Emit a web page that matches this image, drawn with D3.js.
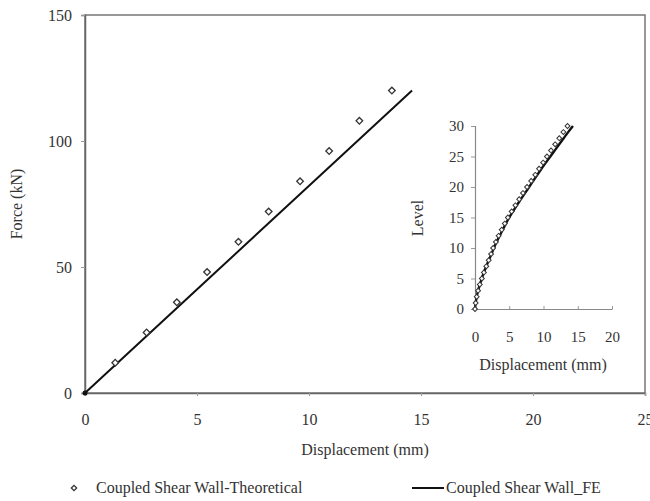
<!DOCTYPE html>
<html><head><meta charset="utf-8">
<script src="https://cdn.jsdelivr.net/npm/d3@7"></script>
<style>body{margin:0;background:#fff}svg{display:block}text{font-family:"Liberation Serif","Times New Roman",serif;fill:#333}</style>
</head><body><div id="chart"></div>
<script>
// Main chart data
const theoForce = [12, 24, 36, 48, 60, 72, 84, 96, 108, 120];
const theoDisp  = [1.35, 2.75, 4.1, 5.45, 6.85, 8.2, 9.6, 10.9, 12.25, 13.7];
const feForce   = [0, 12, 24, 36, 48, 60, 72, 84, 96, 108, 120];
const feDisp    = [0, 1.46, 2.92, 4.38, 5.84, 7.3, 8.76, 10.22, 11.68, 13.14, 14.6];
const xTicks = [0, 5, 10, 15, 20, 25];
const yTicks = [0, 50, 100, 150];
// Inset data
const levels = [0,1,2,3,4,5,6,7,8,9,10,11,12,13,14,15,16,17,18,19,20,21,22,23,24,25,26,27,28,29,30];
const insetTheo = [0,0.1,0.25,0.45,0.7,1.0,1.3,1.65,2.0,2.35,2.65,3.05,3.45,3.9,4.35,4.8,5.35,5.9,6.45,7.0,7.6,8.2,8.8,9.35,9.95,10.5,11.1,11.7,12.3,12.9,13.5];
const insetFE   = [0,0.1,0.25,0.45,0.7,1.0,1.3,1.65,2.0,2.4,2.75,3.15,3.6,4.05,4.5,5.0,5.55,6.1,6.7,7.3,7.9,8.5,9.1,9.7,10.35,11.0,11.65,12.3,12.95,13.6,14.3];
const insetXTicks = [0, 5, 10, 15, 20];
const insetYTicks = [0, 5, 10, 15, 20, 25, 30];
const legendLabels = ["Coupled Shear Wall-Theoretical", "Coupled Shear Wall_FE"];

const W = 650, H = 501;
const svg = d3.select("#chart").append("svg").attr("width", W).attr("height", H);

const x = d3.scaleLinear().domain([0, 25]).range([85, 645]);
const y = d3.scaleLinear().domain([0, 150]).range([393, 15]);

// plot frame
svg.append("rect").attr("x", 85).attr("y", 15).attr("width", 560).attr("height", 378)
  .attr("fill", "none").attr("stroke", "#777").attr("stroke-width", 1.5);

const xa = svg.append("g").attr("transform", "translate(0,393)")
  .call(d3.axisBottom(x).tickValues(xTicks).tickSize(3).tickPadding(18).tickFormat(d3.format("d")));
const ya = svg.append("g").attr("transform", "translate(85,0)")
  .call(d3.axisLeft(y).tickValues(yTicks).tickSize(4).tickPadding(9).tickFormat(d3.format("d")));
[xa, ya].forEach(g => {
  g.select(".domain").attr("stroke", "#666").attr("stroke-width", 1.5);
  g.selectAll(".tick line").attr("stroke", "#999");
  g.selectAll("text").attr("font-size", 16).attr("font-family", "Liberation Serif").attr("fill", "#333");
});

svg.append("text").attr("x", 365).attr("y", 455).attr("text-anchor", "middle").attr("font-size", 16).text("Displacement (mm)");
svg.append("text").attr("transform", "translate(22,204) rotate(-90)").attr("text-anchor", "middle").attr("font-size", 16).text("Force (kN)");

const marker = s => d3.symbol().type(d3.symbolSquare).size(s);

// FE line
svg.append("path").datum(feForce.map((f, i) => [feDisp[i], f]))
  .attr("d", d3.line().x(d => x(d[0])).y(d => y(d[1])))
  .attr("fill", "none").attr("stroke", "#111").attr("stroke-width", 2);
svg.append("circle").attr("cx", x(0)).attr("cy", y(0)).attr("r", 2.5).attr("fill", "#111");
// theoretical points
svg.selectAll(".tp").data(theoForce.map((f, i) => [theoDisp[i], f])).enter().append("path")
  .attr("d", marker(22)).attr("transform", d => `translate(${x(d[0])},${y(d[1])}) rotate(45)`)
  .attr("fill", "#fff").attr("stroke", "#333").attr("stroke-width", 1.3);

// Inset
const ix = d3.scaleLinear().domain([0, 20]).range([475, 612]);
const iy = d3.scaleLinear().domain([0, 30]).range([309, 126]);
const ixa = svg.append("g").attr("transform", "translate(0,309)")
  .call(d3.axisBottom(ix).tickValues(insetXTicks).tickSizeInner(-3).tickSizeOuter(0).tickPadding(22).tickFormat(d3.format("d")));
const iya = svg.append("g").attr("transform", "translate(475,0)")
  .call(d3.axisLeft(iy).tickValues(insetYTicks).tickSize(4).tickPadding(7).tickFormat(d3.format("d")));
[ixa, iya].forEach(g => {
  g.select(".domain").attr("stroke", "#888").attr("stroke-width", 1.2);
  g.selectAll(".tick line").attr("stroke", "#999");
  g.selectAll("text").attr("font-size", 15).attr("font-family", "Liberation Serif").attr("fill", "#333");
});
svg.append("text").attr("x", 543).attr("y", 370).attr("text-anchor", "middle").attr("font-size", 16).text("Displacement (mm)");
svg.append("text").attr("transform", "translate(423,218) rotate(-90)").attr("text-anchor", "middle").attr("font-size", 16).text("Level");

svg.append("path").datum(levels.map((l, i) => [insetFE[i], l]))
  .attr("d", d3.line().curve(d3.curveMonotoneY).x(d => ix(d[0])).y(d => iy(d[1])))
  .attr("fill", "none").attr("stroke", "#111").attr("stroke-width", 2.4);
svg.selectAll(".ip").data(levels.map((l, i) => [insetTheo[i], l])).enter().append("path")
  .attr("d", marker(12)).attr("transform", d => `translate(${ix(d[0])},${iy(d[1])}) rotate(45)`)
  .attr("fill", "#fff").attr("stroke", "#333").attr("stroke-width", 1);

// Legend
const lg = svg.append("g");
lg.append("path").attr("d", marker(14)).attr("transform", "translate(74,488) rotate(45)")
  .attr("fill", "#fff").attr("stroke", "#333").attr("stroke-width", 1.3);
lg.append("text").attr("x", 96).attr("y", 493).attr("font-size", 16).text(legendLabels[0]);
lg.append("line").attr("x1", 412).attr("x2", 444).attr("y1", 488).attr("y2", 488).attr("stroke", "#111").attr("stroke-width", 2);
lg.append("text").attr("x", 446).attr("y", 493).attr("font-size", 16).text(legendLabels[1]);
</script></body></html>
